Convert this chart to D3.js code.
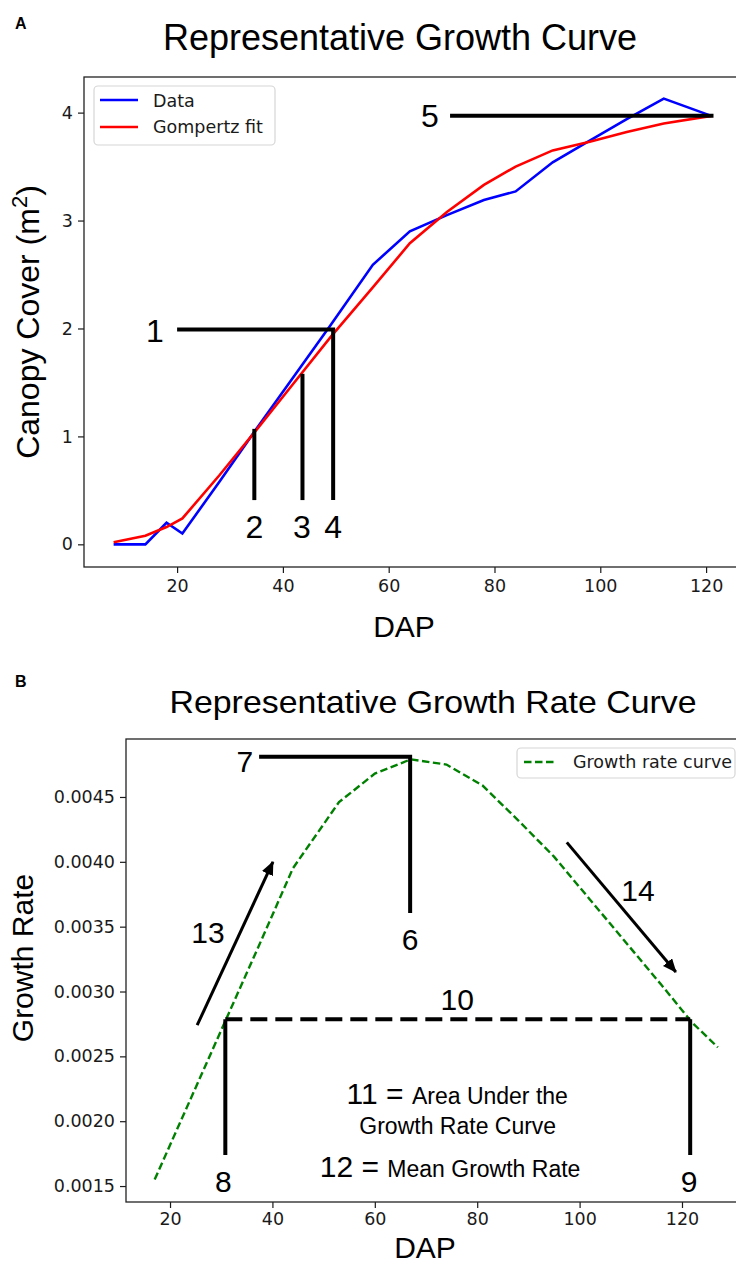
<!DOCTYPE html>
<html>
<head>
<meta charset="utf-8">
<script src="https://cdn.jsdelivr.net/npm/d3@7"></script>
<style>
body { margin: 0; background: #fff; }
.tick text { font-family: "DejaVu Sans", sans-serif; font-size: 17.5px; fill: #1a1a1a; }
.tick line { stroke: #1a1a1a; stroke-width: 1.2; }
.lbl { font-family: "Liberation Sans", Arial, sans-serif; fill: #000; }
</style>
</head>
<body>
<script>
// ---- panel A : canopy cover over time ----
var dap = [8, 14, 18, 21, 28, 35, 42, 49, 57, 64, 71, 78, 84, 91, 98, 105, 112, 121];
var canopyData = [0, 0, 0.2, 0.1, 0.58, 1.07, 1.55, 2.03, 2.59, 2.9, 3.05, 3.19, 3.27, 3.54, 3.74, 3.94, 4.13, 3.97];
var gompertzFit = [0.02, 0.08, 0.16, 0.24, 0.64, 1.06, 1.49, 1.92, 2.38, 2.79, 3.08, 3.33, 3.5, 3.65, 3.73, 3.82, 3.9, 3.97];
var xTicksA = [20, 40, 60, 80, 100, 120];
var yTicksA = [0, 1, 2, 3, 4];

// ---- panel B : growth rate ----
var rateDap = [17, 24, 31, 38, 44, 53, 60, 67, 74, 81, 88, 95, 102, 109, 116, 122, 127];
var growthRate = [0.00155, 0.00217, 0.00279, 0.00341, 0.00395, 0.00446, 0.00468, 0.00479, 0.00475, 0.00459,
    0.00432, 0.00404, 0.00371, 0.00338, 0.00305, 0.00276, 0.00257];
var xTicksB = [20, 40, 60, 80, 100, 120];
var yTicksB = [0.0015, 0.0020, 0.0025, 0.0030, 0.0035, 0.0040, 0.0045];

// numbered annotations (data coords)
var annoLinesA = [
    [[20, 1.99], [49.5, 1.99], [49.5, 0.41]],
    [[34.6, 1.07], [34.6, 0.41]],
    [[43.7, 1.58], [43.7, 0.41]],
    [[71.6, 3.97], [121.4, 3.97]]
];
var annoTextA = [["1", 15.8, 1.875], ["2", 34.6, 0.056], ["3", 43.6, 0.056], ["4", 49.5, 0.056], ["5", 67.8, 3.87]];

var annoLinesB = [
    [[37.4, 0.00481], [66.9, 0.00481], [66.9, 0.003605]],
    [[30.8, 0.002787], [30.8, 0.00174]],
    [[121.6, 0.002787], [121.6, 0.00174]]
];
var meanLineB = [[30.8, 0.002787], [121.6, 0.002787]];
var arrowsB = [[[25.3, 0.00274], [40.1, 0.0040]], [[97.5, 0.00415], [118.8, 0.00315]]];
var annoTextB = [["7", 34.6, 0.004693], ["6", 66.9, 0.00332], ["13", 27.4, 0.003374], ["8", 30.4, 0.001454],
    ["9", 121.4, 0.001454], ["10", 76.1, 0.002857], ["14", 111.4, 0.003698]];

var width = 736, height = 1268;

var svg = d3.select("body").append("svg")
    .attr("width", width)
    .attr("height", height);

svg.append("defs").append("marker")
    .attr("id", "head")
    .attr("markerUnits", "userSpaceOnUse")
    .attr("viewBox", "0 0 14 12")
    .attr("refX", 13).attr("refY", 6)
    .attr("markerWidth", 14).attr("markerHeight", 12)
    .attr("orient", "auto")
    .append("path")
    .attr("d", "M0,0 L14,6 L0,12 Z")
    .attr("fill", "#000");

// scales
var xA = d3.scaleLinear().domain([2.4, 126.6]).range([84, 741]);
var yA = d3.scaleLinear().domain([-0.21, 4.33]).range([567, 77]);
var xB = d3.scaleLinear().domain([11.4, 132.6]).range([126, 746.5]);
var yB = d3.scaleLinear().domain([0.001377, 0.004947]).range([1202, 739]);

function drawAxes(x, y, xTicks, yTicks, yFmt, pad) {
    svg.append("g")
        .attr("transform", "translate(0," + y.range()[0] + ")")
        .call(d3.axisBottom(x).tickValues(xTicks).tickSize(6).tickPadding(pad).tickFormat(d3.format("d")))
        .call(g => g.select(".domain").remove());
    svg.append("g")
        .attr("transform", "translate(" + x.range()[0] + ",0)")
        .call(d3.axisLeft(y).tickValues(yTicks).tickSize(6).tickPadding(5).tickFormat(yFmt))
        .call(g => g.select(".domain").remove());
    svg.append("rect")
        .attr("x", x.range()[0]).attr("y", y.range()[1])
        .attr("width", x.range()[1] - x.range()[0])
        .attr("height", y.range()[0] - y.range()[1])
        .attr("fill", "none")
        .attr("stroke", "#222")
        .attr("stroke-width", 1.3);
}

drawAxes(xA, yA, xTicksA, yTicksA, d3.format("d"), 7);
drawAxes(xB, yB, xTicksB, yTicksB, d3.format(".4f"), 5);

// ---------- panel A marks ----------
var lineA = d3.line().x(d => xA(d[0])).y(d => yA(d[1]));

svg.append("path")
    .datum(d3.zip(dap, canopyData))
    .attr("d", lineA)
    .attr("fill", "none")
    .attr("stroke", "#0000ff")
    .attr("stroke-width", 2.6);

svg.append("path")
    .datum(d3.zip(dap, gompertzFit))
    .attr("d", lineA)
    .attr("fill", "none")
    .attr("stroke", "#ff0000")
    .attr("stroke-width", 2.6);

svg.selectAll(".annoA")
    .data(annoLinesA)
    .enter().append("path")
    .attr("class", "annoA")
    .attr("d", lineA)
    .attr("fill", "none")
    .attr("stroke", "#000")
    .attr("stroke-width", 4)
    .attr("stroke-linejoin", "miter");

svg.selectAll(".numA")
    .data(annoTextA)
    .enter().append("text")
    .attr("class", "lbl numA")
    .attr("x", d => xA(d[1]))
    .attr("y", d => yA(d[2]))
    .attr("text-anchor", "middle")
    .style("font-size", "32px")
    .text(d => d[0]);

// legend A
var legA = svg.append("g");
legA.append("rect")
    .attr("x", 94).attr("y", 86).attr("width", 181).attr("height", 59)
    .attr("rx", 4)
    .attr("fill", "#fff").attr("fill-opacity", 0.8)
    .attr("stroke", "#d6d6d6").attr("stroke-width", 1.2);
[["Data", "#0000ff", 100, 107], ["Gompertz fit", "#ff0000", 127, 133]].forEach(function (e) {
    legA.append("line")
        .attr("x1", 100).attr("x2", 138).attr("y1", e[2]).attr("y2", e[2])
        .attr("stroke", e[1]).attr("stroke-width", 2.6);
    legA.append("text")
        .attr("x", 153).attr("y", e[3])
        .style("font-family", "DejaVu Sans, sans-serif")
        .style("font-size", "17.5px")
        .attr("fill", "#1a1a1a")
        .text(e[0]);
});

// titles and axis labels A
svg.append("text").attr("class", "lbl")
    .attr("x", 15).attr("y", 29)
    .style("font-size", "16px").style("font-weight", "bold")
    .text("A");
svg.append("text").attr("class", "lbl")
    .attr("x", 400).attr("y", 50)
    .attr("text-anchor", "middle")
    .style("font-size", "36px")
    .text("Representative Growth Curve");
svg.append("text").attr("class", "lbl")
    .attr("x", 404).attr("y", 637)
    .attr("text-anchor", "middle")
    .style("font-size", "30px")
    .text("DAP");
var ylabA = svg.append("text").attr("class", "lbl")
    .attr("transform", "translate(39,322) rotate(-90)")
    .attr("text-anchor", "middle")
    .style("font-size", "32px");
ylabA.append("tspan").text("Canopy Cover (m");
ylabA.append("tspan").attr("dy", -12).style("font-size", "22px").text("2");
ylabA.append("tspan").attr("dy", 12).text(")");

// ---------- panel B marks ----------
var lineB = d3.line().x(d => xB(d[0])).y(d => yB(d[1]));

svg.append("path")
    .datum(d3.zip(rateDap, growthRate))
    .attr("d", lineB)
    .attr("fill", "none")
    .attr("stroke", "#008000")
    .attr("stroke-width", 2.4)
    .attr("stroke-dasharray", "7.5,3.5");

svg.selectAll(".annoB")
    .data(annoLinesB)
    .enter().append("path")
    .attr("class", "annoB")
    .attr("d", lineB)
    .attr("fill", "none")
    .attr("stroke", "#000")
    .attr("stroke-width", 4)
    .attr("stroke-linejoin", "miter");

svg.append("path")
    .datum(meanLineB)
    .attr("d", lineB)
    .attr("fill", "none")
    .attr("stroke", "#000")
    .attr("stroke-width", 4)
    .attr("stroke-dasharray", "17,8");

svg.selectAll(".arrowB")
    .data(arrowsB)
    .enter().append("path")
    .attr("class", "arrowB")
    .attr("d", lineB)
    .attr("fill", "none")
    .attr("stroke", "#000")
    .attr("stroke-width", 3)
    .attr("marker-end", "url(#head)");

svg.selectAll(".numB")
    .data(annoTextB)
    .enter().append("text")
    .attr("class", "lbl numB")
    .attr("x", d => xB(d[1]))
    .attr("y", d => yB(d[2]))
    .attr("text-anchor", "middle")
    .style("font-size", "30px")
    .text(d => d[0]);

// explanation text for 11 / 12
var t1 = svg.append("text").attr("class", "lbl")
    .attr("x", xB(76.1)).attr("y", yB(0.002132))
    .attr("text-anchor", "middle");
t1.append("tspan").style("font-size", "30px").text("11 = ");
t1.append("tspan").style("font-size", "23px").text("Area Under the");
svg.append("text").attr("class", "lbl")
    .attr("x", xB(76.2)).attr("y", yB(0.0019))
    .attr("text-anchor", "middle")
    .style("font-size", "23px")
    .text("Growth Rate Curve");
var t3 = svg.append("text").attr("class", "lbl")
    .attr("x", xB(74.7)).attr("y", yB(0.001569))
    .attr("text-anchor", "middle");
t3.append("tspan").style("font-size", "30px").text("12 = ");
t3.append("tspan").style("font-size", "23px").text("Mean Growth Rate");

// legend B
var legB = svg.append("g");
legB.append("rect")
    .attr("x", 517).attr("y", 748).attr("width", 218).attr("height", 30)
    .attr("rx", 4)
    .attr("fill", "#fff").attr("fill-opacity", 0.8)
    .attr("stroke", "#d6d6d6").attr("stroke-width", 1.2);
legB.append("line")
    .attr("x1", 524).attr("x2", 557).attr("y1", 762).attr("y2", 762)
    .attr("stroke", "#008000").attr("stroke-width", 2.4)
    .attr("stroke-dasharray", "7.5,3.5");
legB.append("text")
    .attr("x", 573).attr("y", 768)
    .style("font-family", "DejaVu Sans, sans-serif")
    .style("font-size", "17.5px")
    .attr("fill", "#1a1a1a")
    .text("Growth rate curve");

// titles and axis labels B
svg.append("text").attr("class", "lbl")
    .attr("x", 15).attr("y", 687)
    .style("font-size", "16px").style("font-weight", "bold")
    .text("B");
svg.append("text").attr("class", "lbl")
    .attr("x", 433).attr("y", 713)
    .attr("text-anchor", "middle")
    .attr("textLength", 527)
    .attr("lengthAdjust", "spacingAndGlyphs")
    .style("font-size", "32px")
    .text("Representative Growth Rate Curve");
svg.append("text").attr("class", "lbl")
    .attr("x", 425).attr("y", 1258)
    .attr("text-anchor", "middle")
    .style("font-size", "30px")
    .text("DAP");
svg.append("text").attr("class", "lbl")
    .attr("transform", "translate(33,958) rotate(-90)")
    .attr("text-anchor", "middle")
    .style("font-size", "30px")
    .text("Growth Rate");
</script>
</body>
</html>
